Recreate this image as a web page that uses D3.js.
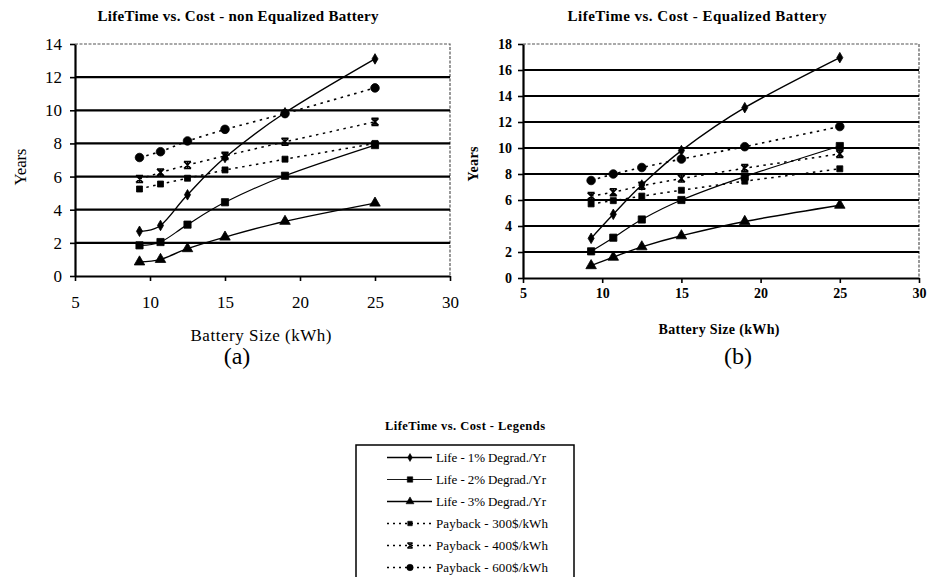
<!DOCTYPE html>
<html>
<head>
<meta charset="utf-8">
<script src="https://cdn.jsdelivr.net/npm/d3@7/dist/d3.min.js"></script>
<style>
  html, body { margin: 0; padding: 0; background: #fff; }
  svg { display: block; }
  text { font-family: "Liberation Serif", "Times New Roman", serif; fill: #000; }
</style>
</head>
<body>
<svg id="chart" width="927" height="577"></svg>
<script>
// Battery sizes (kWh) shared by every series
const batterySizes = [9.3, 10.7, 12.5, 15, 19, 25];

// (a) non-equalized battery, years
const life1A   = [2.7, 3.05, 4.9, 7.15, 9.85, 13.1];
const life2A   = [1.85, 2.05, 3.1, 4.45, 6.05, 7.9];
const life3A   = [0.85, 1.0, 1.65, 2.35, 3.3, 4.4];
const pay300A  = [5.25, 5.55, 5.9, 6.4, 7.05, 8.0];
const pay400A  = [5.85, 6.25, 6.7, 7.25, 8.1, 9.3];
const pay600A  = [7.15, 7.5, 8.15, 8.85, 9.8, 11.35];

// (b) equalized battery, years
const life1B   = [3.05, 4.9, 7.15, 9.8, 13.1, 16.95];
const life2B   = [2.05, 3.1, 4.5, 6.0, 7.8, 10.15];
const life3B   = [0.95, 1.6, 2.4, 3.25, 4.35, 5.6];
const pay300B  = [5.7, 5.95, 6.3, 6.75, 7.45, 8.4];
const pay400B  = [6.3, 6.6, 7.1, 7.65, 8.45, 9.55];
const pay600B  = [7.5, 8.0, 8.5, 9.15, 10.1, 11.65];

const seriesLabels = [
  "Life - 1% Degrad./Yr",
  "Life - 2% Degrad./Yr",
  "Life - 3% Degrad./Yr",
  "Payback - 300$/kWh",
  "Payback - 400$/kWh",
  "Payback - 600$/kWh"
];
const xTicks = [5, 10, 15, 20, 25, 30];
const yTicksA = [0, 2, 4, 6, 8, 10, 12, 14];
const yTicksB = [0, 2, 4, 6, 8, 10, 12, 14, 16, 18];

// marker / line style for each series (same order as labels)
const styles = [
  { marker: "diamond",  dashed: false, width: 1.4 },
  { marker: "square",   dashed: false, width: 1.2 },
  { marker: "triangle", dashed: false, width: 1.4 },
  { marker: "smallsq",  dashed: true,  width: 1.5 },
  { marker: "star",     dashed: true,  width: 1.5 },
  { marker: "circle",   dashed: true,  width: 1.6 }
];

const FONT = "'Liberation Serif', 'Times New Roman', serif";
const svg = d3.select("#chart");

function markerPath(kind) {
  switch (kind) {
    case "diamond":  return d3.symbol(d3.symbolDiamond, 32)();
    case "square":   return d3.symbol(d3.symbolSquare, 52)();
    case "smallsq":  return d3.symbol(d3.symbolSquare, 36)();
    case "triangle": return d3.symbol(d3.symbolTriangle, 48)();
    case "circle":   return d3.symbol(d3.symbolCircle, 58)();
    case "star":     return "M-3.5,-3.5L3.5,-3.5M-3.5,3.5L3.5,3.5M-3.5,-3.5L3.5,3.5M3.5,-3.5L-3.5,3.5M0,-3.5L0,3.5";
  }
}

function drawMarker(g, kind, x, y, scale) {
  const p = g.append("path")
    .attr("d", markerPath(kind))
    .attr("transform", `translate(${x},${y}) scale(${scale || 1})`);
  if (kind === "star") {
    p.attr("fill", "none").attr("stroke", "#000").attr("stroke-width", 1.6);
  } else {
    p.attr("fill", "#000").attr("stroke", "#000").attr("stroke-width", 0.8);
  }
}

// text helper; an optional span stretches the letter spacing to a given width
function label(g, x, y, str, size, weight, span, anchor) {
  const t = g.append("text")
    .attr("x", x).attr("y", y)
    .attr("text-anchor", anchor || "middle")
    .attr("font-family", FONT)
    .attr("font-size", size)
    .attr("font-weight", weight || "normal")
    .text(str);
  if (span) t.attr("textLength", span).attr("lengthAdjust", "spacing");
  return t;
}

function drawPanel(cfg) {
  const g = svg.append("g");
  const x = d3.scaleLinear().domain([5, 30]).range([cfg.left, cfg.right]);
  const y = d3.scaleLinear().domain([0, cfg.yMax]).range([cfg.bottom, cfg.top]);

  // plot frame: dotted grey top and right edges
  g.append("path")
    .attr("d", `M${cfg.left},${cfg.top}H${cfg.right}V${cfg.bottom}`)
    .attr("fill", "none").attr("stroke", "#555").attr("stroke-width", 1.2)
    .attr("stroke-dasharray", "3,1.5");

  // heavy horizontal gridlines
  g.selectAll("line.grid")
    .data(cfg.yTicks.filter(t => t > 0 && t < cfg.yMax))
    .join("line")
    .attr("x1", cfg.left).attr("x2", cfg.right)
    .attr("y1", d => y(d)).attr("y2", d => y(d))
    .attr("stroke", "#000").attr("stroke-width", 2.2);

  // axes
  const xAxis = d3.axisBottom(x).tickValues(xTicks).tickSizeInner(5).tickSizeOuter(0)
    .tickPadding(cfg.xPad).tickFormat(d3.format("d"));
  const yAxis = d3.axisLeft(y).tickValues(cfg.yTicks).tickSizeInner(5).tickSizeOuter(0)
    .tickPadding(cfg.yPad).tickFormat(d3.format("d"));

  const gx = g.append("g").attr("transform", `translate(0,${cfg.bottom})`).call(xAxis);
  const gy = g.append("g").attr("transform", `translate(${cfg.left},0)`).call(yAxis);
  [gx, gy].forEach(a => {
    a.attr("font-family", FONT).attr("font-size", cfg.tickSize);
    a.select(".domain").attr("stroke", "#000").attr("stroke-width", 2.2);
    a.selectAll(".tick line").attr("stroke", "#000").attr("stroke-width", 1.6);
    a.selectAll(".tick text")
      .attr("font-weight", cfg.tickWeight)
      .attr("fill", "#000");
  });

  // series lines and markers
  cfg.series.forEach((vals, i) => {
    const st = styles[i];
    const pts = batterySizes.map((b, k) => [x(b), y(vals[k])]);
    const line = d3.line().curve(st.dashed ? d3.curveLinear : d3.curveCatmullRom.alpha(0));
    g.append("path")
      .attr("d", line(pts))
      .attr("fill", "none")
      .attr("stroke", "#000")
      .attr("stroke-width", st.width)
      .attr("stroke-dasharray", st.dashed ? "2.5,4.5" : null);
  });
  cfg.series.forEach((vals, i) => {
    batterySizes.forEach((b, k) => drawMarker(g, styles[i].marker, x(b), y(vals[k])));
  });

  // titles
  label(g, cfg.titleX, 21, cfg.title, 15, "bold", cfg.titleSpan);

  label(g, 0, 0, "Years", cfg.axisTitleSize, cfg.axisTitleWeight, cfg.yTitleSpan)
    .attr("transform", `translate(${cfg.yTitleX},${cfg.yTitleY}) rotate(-90)`);

  label(g, cfg.xTitleX, cfg.xTitleY, "Battery Size (kWh)",
        cfg.axisTitleSize, cfg.axisTitleWeight, cfg.xTitleSpan);

  label(g, cfg.tagX, 364, cfg.tag, 24, "normal");
}

drawPanel({
  left: 75, right: 450, top: 44, bottom: 276, yMax: 14, yTicks: yTicksA,
  series: [life1A, life2A, life3A, pay300A, pay400A, pay600A],
  title: "LifeTime vs. Cost - non Equalized Battery", titleX: 238, titleSpan: 281,
  tickSize: 17, tickWeight: "normal", xPad: 15, yPad: 8,
  axisTitleSize: 17, axisTitleWeight: "normal",
  yTitleX: 26, yTitleY: 167, yTitleSpan: 37,
  xTitleX: 261, xTitleY: 341, xTitleSpan: 141,
  tag: "(a)", tagX: 237
});

drawPanel({
  left: 523, right: 919, top: 44, bottom: 278, yMax: 18, yTicks: yTicksB,
  series: [life1B, life2B, life3B, pay300B, pay400B, pay600B],
  title: "LifeTime vs. Cost - Equalized Battery", titleX: 697, titleSpan: 259,
  tickSize: 14, tickWeight: "bold", xPad: 5, yPad: 6,
  axisTitleSize: 14, axisTitleWeight: "bold",
  yTitleX: 478, yTitleY: 164, yTitleSpan: 35,
  xTitleX: 719, xTitleY: 334, xTitleSpan: 121,
  tag: "(b)", tagX: 738
});

// shared legend
const lg = svg.append("g");
label(lg, 465, 430, "LifeTime vs. Cost - Legends", 12.5, "bold", 160);

lg.append("rect")
  .attr("x", 356).attr("y", 445).attr("width", 218).attr("height", 140)
  .attr("fill", "none").attr("stroke", "#000").attr("stroke-width", 1.5);

seriesLabels.forEach((name, i) => {
  const st = styles[i];
  const cy = 457.5 + i * 22;
  lg.append("line")
    .attr("x1", 387).attr("x2", 432).attr("y1", cy).attr("y2", cy)
    .attr("stroke", "#000").attr("stroke-width", st.dashed ? 1.3 : (i === 1 ? 0.9 : 1.6))
    .attr("stroke-dasharray", st.dashed ? "2,4" : null);
  drawMarker(lg, st.marker, 410, cy, 0.75);
  label(lg, 436, cy + 4, name, 13, "normal", i < 3 ? 110 : 112, "start");
});
</script>
</body>
</html>
